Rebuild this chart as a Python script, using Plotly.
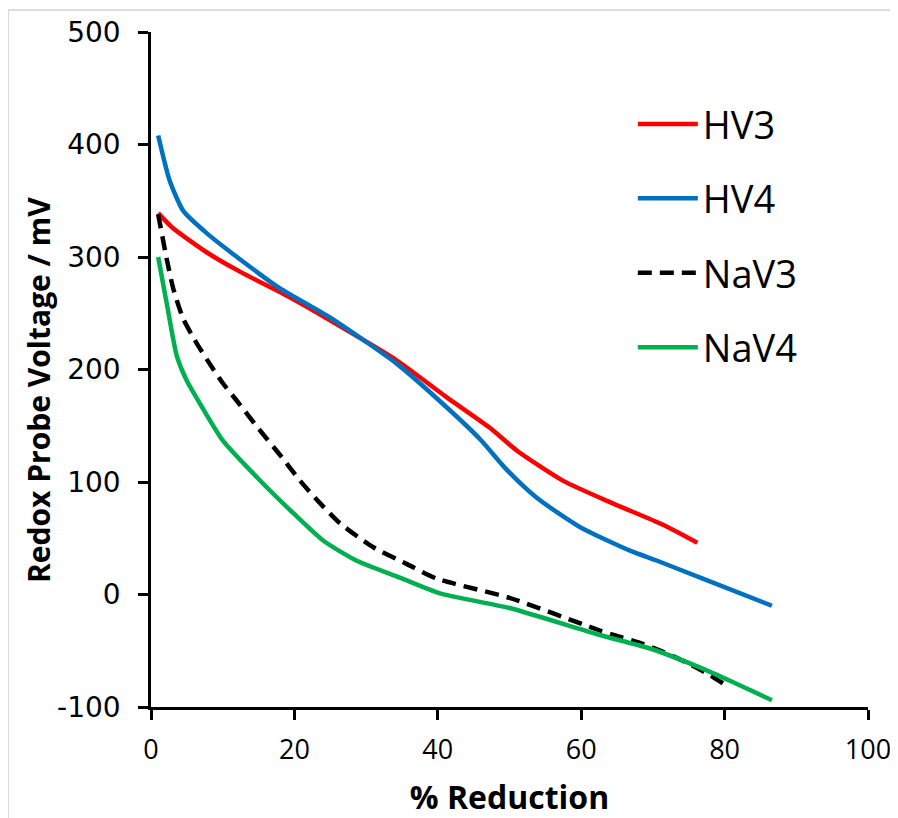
import plotly.graph_objects as go

# % reduction vs redox probe voltage (mV)
hv3_x = [1, 3, 7.8, 12.4, 19.4, 24.9, 34.3, 41.3, 47.3, 51, 57.5, 64.4, 71.4, 76.2]
hv3_y = [339, 326, 304, 287, 264, 244, 208, 175, 148, 128, 101, 81, 62, 46]

hv4_x = [1, 2.6, 4.5, 7.8, 12.4, 18, 25, 34.3, 41.3, 45.9, 49.6, 53.8, 59.8, 66.8, 70.6, 76.6, 86.6]
hv4_y = [408, 368, 341, 321, 298, 272, 246, 205, 166, 138, 111, 86, 60, 39, 30, 15, -10]

nav3_x = [1, 2.2, 3.1, 4.5, 6.4, 8.2, 10, 12, 14.8, 18, 20.8, 23.6, 26.4, 31, 35.7, 39.9,
          50, 62.6, 64.5, 68.2, 71.4, 74.2, 77.5, 80.3]
nav3_y = [338, 298, 272, 245, 223, 205, 188, 172, 149, 124, 101, 81, 63, 42, 27, 14,
          -3, -32, -36, -43, -51, -59, -70, -81]

nav4_x = [1, 2.3, 3.6, 5, 6.8, 10, 14.8, 19.4, 24, 28.7, 34.7, 40.3, 50, 62.6, 69.6, 76.6, 81.2, 86.6]
nav4_y = [300, 255, 212, 190, 170, 137, 104, 75, 48, 30, 15, 1, -12, -36, -48, -65, -78, -94]

names = ["HV3", "HV4", "NaV3", "NaV4"]
colors = ["#ff0000", "#0070c0", "#000000", "#00b050"]
dashes = ["solid", "solid", "14px,8px", "solid"]
xs = [hv3_x, hv4_x, nav3_x, nav4_x]
ys = [hv3_y, hv4_y, nav3_y, nav4_y]

fig = go.Figure()
for i in range(4):
    fig.add_trace(go.Scatter(x=xs[i], y=ys[i], mode="lines", name=names[i],
                             legendgroup=names[i],
                             line=dict(color=colors[i], width=4.5, dash=dashes[i], shape="spline", smoothing=0.6)))

fig.update_layout(
    width=890, height=810,
    margin=dict(l=143, r=30, t=24, b=111),
    plot_bgcolor="white", paper_bgcolor="white",
    font=dict(family="Open Sans", color="black"),
    legend=dict(x=0.672, y=0.91, xanchor="left", yanchor="top",
                font=dict(size=38, family="Open Sans"),
                tracegroupgap=22, itemwidth=60, bgcolor="rgba(0,0,0,0)"),
    xaxis=dict(range=[0, 100], tickvals=[0, 20, 40, 60, 80, 100], automargin=False,
               showgrid=False, zeroline=False, showline=True, linecolor="black", linewidth=2.5,
               ticks="outside", ticklen=10, tickwidth=2.5, tickcolor="black",
               ticklabelstandoff=7,
               tickfont=dict(size=27, family="Open Sans"),
               title=dict(text="<b>% Reduction</b>", font=dict(size=32, family="Open Sans"), standoff=25)),
    yaxis=dict(range=[-100, 500], tickvals=[-100, 0, 100, 200, 300, 400, 500], automargin=False,
               ticktext=["-100", "0", "100", "200", "300", "400", "500"],
               showgrid=False, zeroline=False, showline=True, linecolor="black", linewidth=2.5,
               ticks="outside", ticklen=10, tickwidth=2.5, tickcolor="black",
               ticklabelstandoff=12,
               tickfont=dict(size=28, family="DejaVu Sans")),
)

# y axis title placed as in the original (slightly below plot centre)
fig.add_annotation(text="<b>Redox Probe Voltage / mV</b>", textangle=-90, showarrow=False,
                   xref="paper", yref="paper", x=(38 - 151) / 717, y=(707 - 390) / 675,
                   xanchor="center", yanchor="middle", font=dict(size=30, family="Open Sans"))

# thin grey frame of the original chart (top and left edges)
fig.add_shape(type="line", xref="paper", yref="paper", x0=-0.1994, x1=1.05, y0=1.0326, y1=1.0326,
              line=dict(color="#d0d0d0", width=1.5))
fig.add_shape(type="line", xref="paper", yref="paper", x0=-0.1994, x1=-0.1994, y0=1.0326, y1=-0.2,
              line=dict(color="#d0d0d0", width=1.5))

fig.write_html("out.html")
